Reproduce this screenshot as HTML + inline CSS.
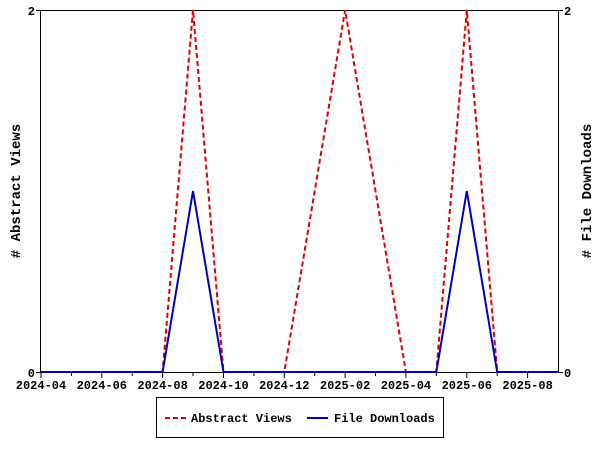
<!DOCTYPE html>
<html><head><style>body{margin:0;background:#fff}</style></head><body>
<svg width="600" height="450" xmlns="http://www.w3.org/2000/svg" font-family="Liberation Mono, monospace" font-weight="bold" font-size="12">
<rect width="600" height="450" fill="#fff"/>
<g stroke="#000" stroke-width="1">
<line x1="40.5" y1="10.5" x2="558.5" y2="10.5"/>
<line x1="40.5" y1="10" x2="40.5" y2="372"/>
<line x1="558.5" y1="10" x2="558.5" y2="372"/>
<line x1="40" y1="372.5" x2="559" y2="372.5"/>
<line x1="36" y1="10.5" x2="41" y2="10.5"/><line x1="36" y1="372.5" x2="41" y2="372.5"/>
<line x1="558" y1="10.5" x2="563" y2="10.5"/><line x1="558" y1="372.5" x2="563" y2="372.5"/>
<path d="M71.4 372v4M101.8 372v6M132.2 372v4M162.6 372v6M193 372v4M223.5 372v6M253.9 372v4M284.3 372v6M314.7 372v4M345.1 372v6M375.5 372v4M405.9 372v6M436.3 372v4M466.8 372v6M497.2 372v4M527.6 372v6M41 372v6"/>
</g>
<g text-anchor="middle">
<text x="41" y="389">2024-04</text><text x="101.8" y="389">2024-06</text><text x="162.6" y="389">2024-08</text><text x="223.5" y="389">2024-10</text><text x="284.3" y="389">2024-12</text><text x="345.1" y="389">2025-02</text><text x="405.9" y="389">2025-04</text><text x="466.8" y="389">2025-06</text><text x="527.6" y="389">2025-08</text>
</g>
<text x="35" y="15" text-anchor="end">2</text><text x="35" y="377" text-anchor="end">0</text>
<text x="564" y="15">2</text><text x="564" y="377">0</text>
<text transform="translate(20,191) rotate(-90)" text-anchor="middle" font-size="14">#  Abstract Views</text>
<text transform="translate(591,191) rotate(-90)" text-anchor="middle" font-size="14"># File Downloads</text>
<polyline fill="none" stroke="#dd0000" stroke-width="2" stroke-dasharray="5,3" points="41,372 162.6,372 193,10 223.5,372 284.3,372 345.1,10 405.9,372 436.3,372 466.8,10 497.2,372 558,372"/>
<polyline fill="none" stroke="#0000bb" stroke-width="2" points="41,372 162.6,372 193,191 223.5,372 436.3,372 466.8,191 497.2,372 558,372"/>
<rect x="156.5" y="397.5" width="287" height="40" fill="#fff" stroke="#000"/>
<line x1="165" y1="418" x2="186" y2="418" stroke="#dd0000" stroke-width="2" stroke-dasharray="5,3"/>
<text x="191" y="422">Abstract Views</text>
<line x1="307" y1="418" x2="328" y2="418" stroke="#0000bb" stroke-width="2"/>
<text x="334" y="422">File Downloads</text>
</svg>
</body></html>
